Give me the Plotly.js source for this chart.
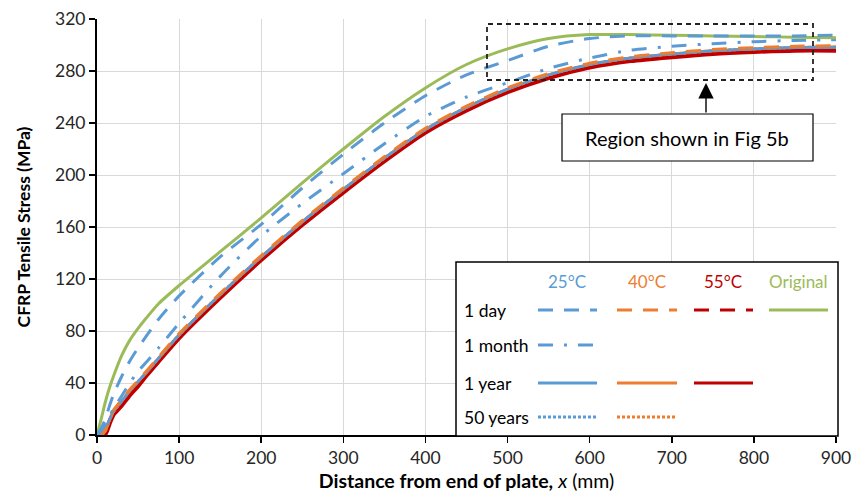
<!DOCTYPE html>
<html>
<head>
<meta charset="utf-8">
<script src="https://cdn.plot.ly/plotly-3.0.1.min.js"></script>
<style>html,body{margin:0;padding:0;background:#fff}#chart{width:857px;height:497px}</style>
</head>
<body>
<div id="chart"></div>
<script>
// ---- Data ----
const xPos = [0, 5, 10, 15, 20, 30, 40, 50, 60, 75, 100, 150, 200, 250, 300, 350, 400, 450, 500, 550, 600, 650, 700, 750, 800, 850, 900];

const original     = [0, 12, 25, 36, 45, 61, 73, 82, 90, 101, 115, 141, 167, 194, 220, 245, 267, 285, 297, 305, 308, 308, 307.5, 307, 306.5, 306, 305.5];
const t25_1day     = [0, 5, 12, 22, 31, 45, 57, 67, 76, 89, 107, 137, 162, 190, 216, 240, 261, 277, 288, 299, 305, 307, 307, 307, 307, 307, 307.5];
const t25_1month   = [0, 3, 8, 14, 20, 30, 40, 49, 56, 67, 86, 122, 153, 178, 201, 224, 245, 260, 271, 282, 290, 296, 299, 301, 302.5, 303.5, 304];
const t25_1year    = [0, 1, 4, 12, 18, 26, 34, 41, 48, 59, 77, 108, 137, 164, 189, 213, 235, 252, 266, 277, 285, 290, 293, 295.5, 297, 298, 298];
const t25_50years  = [0, 1, 4, 12, 18, 26, 34, 41, 48, 59, 77, 108, 137, 164, 189, 213, 235, 252, 266, 277, 285, 290, 293, 295.5, 297, 298, 298];
const t40_1day     = [0, 1, 4, 12, 19, 27, 35, 42, 49, 60, 78, 109, 138, 165, 190, 214, 236, 253, 267, 278, 286, 291, 294, 296.5, 298, 299, 299.5];
const t40_1year    = [0, 0, 3, 11, 18, 26, 34, 41, 48, 59, 77, 108, 137, 164, 189, 213, 235, 252, 266, 277, 285, 290, 293, 295.5, 297, 298, 298.5];
const t40_50years  = [0, 0, 3, 11, 18, 26, 34, 41, 48, 59, 77, 108, 137, 164, 189, 213, 235, 252, 266, 277, 285, 290, 293, 295.5, 297, 298, 298.5];
const t55_1day     = [0, 0, 2, 10, 17, 25, 33, 40, 47, 58, 76, 107, 136, 163, 188, 212, 234, 251, 265, 276, 284, 289, 292, 294.5, 296, 297, 297];
const t55_1year    = [0, 0, 1, 9, 16, 23, 31, 38, 46, 57, 75, 106, 135, 162, 187, 211, 233, 250, 264, 275, 283, 288, 291, 293.5, 295, 296, 296];

const yTicks = [0, 40, 80, 120, 160, 200, 240, 280, 320];
const xTicks = [0, 100, 200, 300, 400, 500, 600, 700, 800, 900];

const legendCols = ['25°C', '40°C', '55°C', 'Original'];
const legendRows = ['1 day', '1 month', '1 year', '50 years'];

// ---- Styles ----
const BLUE = '#5B9BD5', ORANGE = '#ED7D31', RED = '#C00000', GREEN = '#9BBB59';
const DASH_DAY = '15px,11px', DASH_MONTH = '15px,11px,3px,11px', DASH_DOT = '3px,2px';

function tr(y, color, width, dash, name) {
  return {x: xPos, y: y, type: 'scatter', mode: 'lines', name: name,
          line: {color: color, width: width, dash: dash, shape: 'spline', smoothing: 0.7},
          hoverinfo: 'skip', showlegend: false};
}

const traces = [
  tr(t55_1year, RED, 5, 'solid', '55°C 1 year'),
  tr(t55_1day, RED, 3, DASH_DAY, '55°C 1 day'),
  tr(t40_1year, ORANGE, 3, 'solid', '40°C 1 year'),
  tr(t40_50years, ORANGE, 3, DASH_DOT, '40°C 50 years'),
  tr(t25_1year, BLUE, 2.5, 'solid', '25°C 1 year'),
  tr(t25_50years, BLUE, 2.5, DASH_DOT, '25°C 50 years'),
  tr(t40_1day, ORANGE, 3, DASH_DAY, '40°C 1 day'),
  tr(t25_1month, BLUE, 3, DASH_MONTH, '25°C 1 month'),
  tr(original, GREEN, 3, 'solid', 'Original'),
  tr(t25_1day, BLUE, 3, DASH_DAY, '25°C 1 day')
];

// ---- Layout helpers (pixel -> paper) ----
const L = 97, R = 21, T = 19, B = 62, W = 857, H = 497;
const PW = W - L - R, PH = H - T - B;
const px = v => (v - L) / PW;
const py = v => (H - B - v) / PH;

const FONT = 'Lato, "Open Sans", sans-serif';
const shapes = [];
const annotations = [];

function label(x, y, text, size, color, xanchor) {
  annotations.push({xref: 'paper', yref: 'paper', x: px(x), y: py(y), text: text, showarrow: false,
                    xanchor: xanchor || 'center', yanchor: 'middle',
                    font: {family: FONT, size: size, color: color}});
}

// legend box
shapes.push({type: 'rect', xref: 'paper', yref: 'paper', x0: px(456), x1: px(838), y0: py(436), y1: py(262),
             fillcolor: '#ffffff', line: {color: '#000', width: 1.5}, layer: 'above'});
// region rectangle
shapes.push({type: 'rect', xref: 'paper', yref: 'paper', x0: px(487), x1: px(813), y0: py(80), y1: py(24),
             fillcolor: 'rgba(0,0,0,0)', line: {color: '#222', width: 1.8, dash: '5px,4px'}, layer: 'above'});
// text box
shapes.push({type: 'rect', xref: 'paper', yref: 'paper', x0: px(562), x1: px(813), y0: py(161), y1: py(114),
             fillcolor: '#ffffff', line: {color: '#000', width: 1.2}, layer: 'above'});
label(687, 138, 'Region shown in Fig 5b', 20, '#000');
// arrow
annotations.push({xref: 'paper', yref: 'paper', x: px(706), y: py(83), ax: 0, ay: 31, text: '',
                  showarrow: true, arrowhead: 2, arrowsize: 2.2, arrowwidth: 1.4, arrowcolor: '#000'});

// legend headers
const colColors = [BLUE, ORANGE, RED, GREEN];
const colCenters = [567, 647, 723, 798];
legendCols.forEach((t, i) => label(colCenters[i], 281, t, 17, colColors[i]));
const rowY = [310, 345, 383, 417];
legendRows.forEach((t, i) => label(462, rowY[i], t, 17.5, '#000', 'left'));
// legend samples
const colX = [[538, 597], [617, 677], [694, 753], [769, 828]];
function sample(c, r, color, dash, w) {
  shapes.push({type: 'line', xref: 'paper', yref: 'paper', x0: px(colX[c][0]), x1: px(colX[c][1]),
               y0: py(rowY[r]), y1: py(rowY[r]), line: {color: color, width: w, dash: dash}, layer: 'above'});
}
sample(0, 0, BLUE, DASH_DAY, 3); sample(1, 0, ORANGE, DASH_DAY, 3); sample(2, 0, RED, DASH_DAY, 3); sample(3, 0, GREEN, 'solid', 3);
sample(0, 1, BLUE, DASH_MONTH, 3);
sample(0, 2, BLUE, 'solid', 3); sample(1, 2, ORANGE, 'solid', 3); sample(2, 2, RED, 'solid', 3);
sample(0, 3, BLUE, DASH_DOT, 3); sample(1, 3, ORANGE, DASH_DOT, 3);

const axisCommon = {showgrid: true, gridcolor: '#D9D9D9', gridwidth: 1,
  showline: true, linecolor: '#000', linewidth: 2, ticks: 'outside', ticklen: 6, tickwidth: 1.5, tickcolor: '#000',
  zeroline: false, fixedrange: true, tickfont: {family: FONT, size: 17.5, color: '#262626'}};

const layout = {
  width: W, height: H, autosize: false,
  margin: {l: L, r: R, t: T, b: B, pad: 0},
  paper_bgcolor: '#fff', plot_bgcolor: '#fff',
  font: {family: FONT, size: 17, color: '#262626'},
  showlegend: false,
  xaxis: Object.assign({}, axisCommon, {range: [0, 900], tickvals: xTicks, ticktext: xTicks.map(String),
          title: {text: '<b>Distance from end of plate,</b> <i>x</i> (mm)', font: {family: FONT, size: 19.5, color: '#000'}, standoff: 7}}),
  yaxis: Object.assign({}, axisCommon, {range: [0, 320], tickvals: yTicks, ticktext: yTicks.map(String),
          title: {text: '<b>CFRP Tensile Stress (MPa)</b>', font: {family: FONT, size: 17.5, color: '#000'}, standoff: 20}}),
  shapes: shapes,
  annotations: annotations
};

Plotly.newPlot('chart', traces, layout, {staticPlot: true, displayModeBar: false});
</script>
</body>
</html>
